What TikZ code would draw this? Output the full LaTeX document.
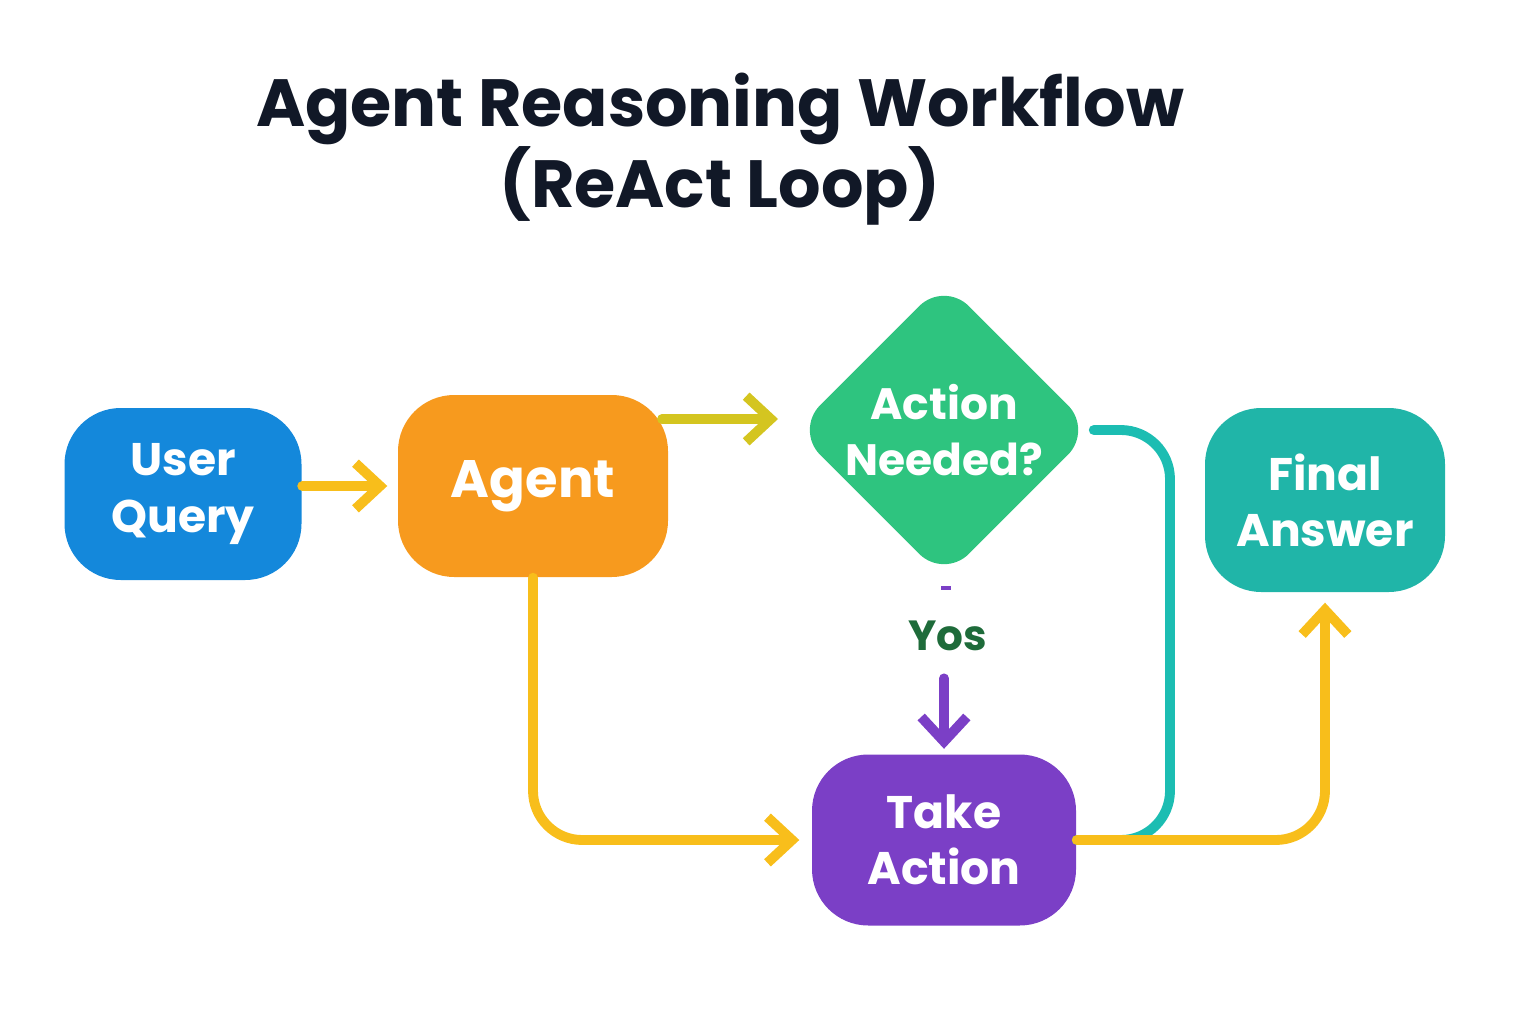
\documentclass[tikz,border=0pt]{standalone}
\usepackage{fontspec}
\setmainfont{Poppins}
\usetikzlibrary{shapes.geometric,arrows.meta}
\definecolor{cblue}{HTML}{1488DB}
\definecolor{corange}{HTML}{F79A1E}
\definecolor{cgreen}{HTML}{2EC47F}
\definecolor{cteal}{HTML}{20B5A8}
\definecolor{cpurple}{HTML}{7B3FC6}
\definecolor{cyellow}{HTML}{F8BE1B}
\definecolor{colive}{HTML}{D4C520}
\definecolor{cline}{HTML}{1CBDB2}
\definecolor{cdark}{HTML}{1E6B3A}
\definecolor{ctitle}{HTML}{111827}
\begin{document}
\begin{tikzpicture}[scale=1]
			\tikzstyle{box} = [rounded corners=16pt, align=center, text=white, font=\bfseries\fontsize{13}{16}\selectfont]
			\tikzstyle{conn} = [line width=2.8pt, line cap=round, rounded corners=14pt]
			\tikzstyle{tip} = [-{Straight Barb[length=7pt,width=13pt,line width=2.8pt]}]
			\useasboundingbox (0,0) rectangle (15.36,10.24);

			\node [font=\bfseries\fontsize{19}{23}\selectfont, text=ctitle, align=center] (title) at (7.2,8.75) {Agent Reasoning Workflow\\(ReAct Loop)};

			\node [box,fill=cblue,minimum width=2.37cm,minimum height=1.72cm] (user) at (1.83,5.30) {User\\Query};
			\node [box,fill=corange,minimum width=2.70cm,minimum height=1.82cm,font=\bfseries\fontsize{15}{18}\selectfont] (agent) at (5.33,5.38) {Agent};
			\node [diamond,fill=cgreen,rounded corners=10pt,minimum width=2.98cm,minimum height=2.98cm,inner sep=0pt,align=center,text=white,font=\bfseries\fontsize{12.5}{16}\selectfont] (dec) at (9.44,5.94) {Action\\Needed?};
			\node [box,fill=cteal,minimum width=2.40cm,minimum height=1.84cm] (final) at (13.25,5.24) {Final\\Answer};
			\node [box,fill=cpurple,minimum width=2.64cm,minimum height=1.71cm] (act) at (9.44,1.84) {Take\\Action};
			\node [text=cdark, font=\bfseries\fontsize{12}{15}\selectfont] (yes) at (9.48,3.88) {Yos};
			\coordinate (a1) at (6.62,6.05);
			\coordinate (a2) at (7.78,6.05);

			\draw [conn, cline] (dec.east) -- (11.70,5.94) -- (11.70,1.84) -- (act.east);
			\draw [conn, cyellow, tip] (user.east |- agent.west) -- ([xshift=-0.1cm]agent.west);
			\draw [conn, colive, tip] (a1) -- (a2);
			\draw [conn, cyellow, tip] (agent.south) -- (5.33,1.84) -- ([xshift=-0.12cm]act.west);
			\draw [conn, cyellow, tip] (act.east) -- (13.25,1.84) -- ([yshift=-0.1cm]final.south);
			\draw [line width=1.2pt, cpurple] (9.41,4.36) -- (9.51,4.36);
			\draw [conn, cpurple, tip] (act.north |- yes.south) ++(0,-0.15) -- ([yshift=0.05cm]act.north);
		\end{tikzpicture}
\end{document}
